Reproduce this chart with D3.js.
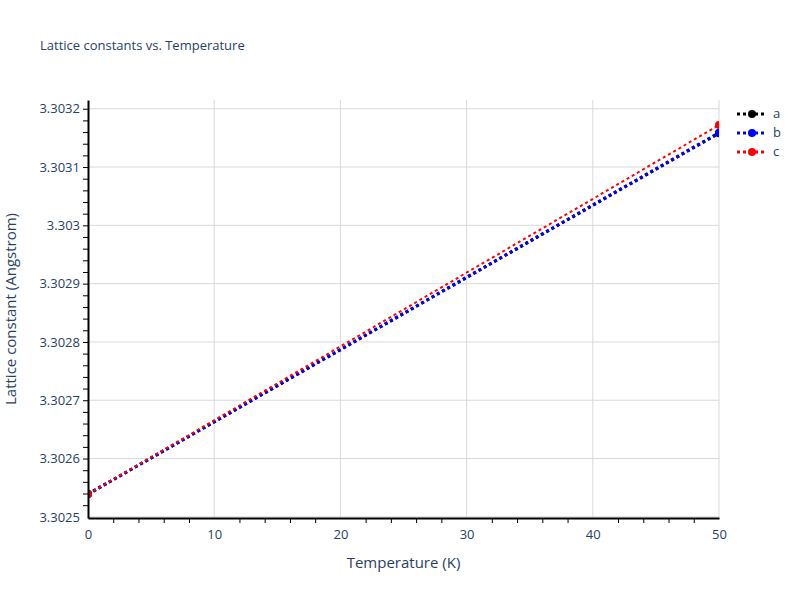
<!DOCTYPE html>
<html><head><meta charset="utf-8">
<script src="https://cdn.jsdelivr.net/npm/d3@7"></script>
<style>body{margin:0;background:#fff;} text{font-family:"Open Sans",sans-serif;}</style>
</head><body><div id="container"></div>
<script>
const w = 800, h = 600;
const m = {left: 88, right: 719, top: 100, bottom: 518};

// data
let temps = [0, 50];
let seriesNames = ["a", "b", "c"];
let seriesColors = ["black", "blue", "red"];
let seriesWidths = [3, 3, 2];
let aVals = [3.302539, 3.303158];
let bVals = [3.302539, 3.303159];
let cVals = [3.302539, 3.303172];
let allVals = [aVals, bVals, cVals];
let yTicks = [3.3025, 3.3026, 3.3027, 3.3028, 3.3029, 3.303, 3.3031, 3.3032];
let xTicks = [0, 10, 20, 30, 40, 50];

let xScale = d3.scaleLinear().domain([0, 50]).range([m.left, m.right]);
let yScale = d3.scaleLinear().domain([3.302498, 3.303215]).range([m.bottom, m.top]);

let viz = d3.select("#container").append("svg").attr("width", w).attr("height", h);

// grid
viz.append("g").selectAll("line").data(xTicks.slice(1)).enter().append("line")
  .attr("x1", d => xScale(d)).attr("x2", d => xScale(d))
  .attr("y1", m.top).attr("y2", m.bottom).attr("stroke", "#d9d9d9");
viz.append("g").selectAll("line").data(yTicks).enter().append("line")
  .attr("x1", m.left).attr("x2", m.right)
  .attr("y1", d => yScale(d)).attr("y2", d => yScale(d)).attr("stroke", "#d9d9d9");

viz.append("defs").append("clipPath").attr("id", "clip").append("rect")
  .attr("x", m.left).attr("y", m.top).attr("width", m.right - m.left).attr("height", m.bottom - m.top);

// lines
let plot = viz.append("g").attr("clip-path", "url(#clip)");
let line = d3.line().x((d, i) => xScale(temps[i])).y(d => yScale(d));
allVals.forEach(function(vals, k){
  plot.append("path").attr("d", line(vals)).attr("fill", "none")
    .attr("stroke", seriesColors[k]).attr("stroke-width", seriesWidths[k])
    .attr("stroke-dasharray", "3,3");
  plot.selectAll(".pt" + k).data(vals).enter().append("circle")
    .attr("cx", (d, i) => xScale(temps[i])).attr("cy", d => yScale(d))
    .attr("r", 4).attr("fill", seriesColors[k]);
});

// axes
let minorX = d3.range(2, 50, 2).filter(v => v % 10 != 0);
let xAxisGroup = viz.append("g").attr("transform", "translate(0," + (m.bottom) + ")");
xAxisGroup.call(d3.axisBottom(xScale).tickValues(minorX).tickSize(5).tickFormat(""));
xAxisGroup.call(g => g.select(".domain").remove());
viz.append("g").attr("transform", "translate(0," + m.bottom + ")")
  .call(d3.axisBottom(xScale).tickValues(xTicks).tickSize(0).tickPadding(12).tickSizeOuter(0))
  .call(g => g.select(".domain").attr("stroke", "black").attr("stroke-width", 2));

let minorY = d3.range(1, 36).map(i => 3.3025 + i * 0.00002).filter(v => v <= 3.30321);
let yAxisGroup = viz.append("g").attr("transform", "translate(" + m.left + ",0)");
yAxisGroup.call(d3.axisLeft(yScale).tickValues(minorY).tickSize(5).tickFormat(""));
yAxisGroup.call(g => g.select(".domain").remove());
viz.append("g").attr("transform", "translate(" + m.left + ",0)")
  .call(d3.axisLeft(yScale).tickValues(yTicks).tickSize(0).tickPadding(8).tickSizeOuter(0).tickFormat(d => +d.toFixed(4)))
  .call(g => g.select(".domain").attr("stroke", "black").attr("stroke-width", 2));

viz.selectAll(".tick text").attr("font-size", 13).attr("fill", "#2a3f5f").attr("font-family", "Open Sans, sans-serif");

// titles
viz.append("text").attr("x", 40).attr("y", 50).attr("font-size", 13).attr("fill", "#2a3f5f")
  .text("Lattice constants vs. Temperature");
viz.append("text").attr("x", (m.left + m.right) / 2).attr("y", 568).attr("text-anchor", "middle")
  .attr("font-size", 15).attr("fill", "#2a3f5f").text("Temperature (K)");
viz.append("text").attr("transform", "translate(16," + ((m.top + m.bottom) / 2) + ") rotate(-90)")
  .attr("text-anchor", "middle").attr("font-size", 15).attr("fill", "#2a3f5f")
  .text("Lattice constant (Angstrom)");

// legend
let legend = viz.append("g").selectAll("g").data(seriesNames).enter().append("g")
  .attr("transform", (d, i) => "translate(737," + (114 + i * 19) + ")");
legend.append("line").attr("x1", 0).attr("x2", 28).attr("stroke", (d, i) => seriesColors[i])
  .attr("stroke-width", 3).attr("stroke-dasharray", "3,3");
legend.append("circle").attr("cx", 15).attr("r", 4).attr("fill", (d, i) => seriesColors[i]);
legend.append("text").attr("x", 36).attr("y", 4).attr("font-size", 13).attr("fill", "#2a3f5f").text(d => d);
</script></body></html>
